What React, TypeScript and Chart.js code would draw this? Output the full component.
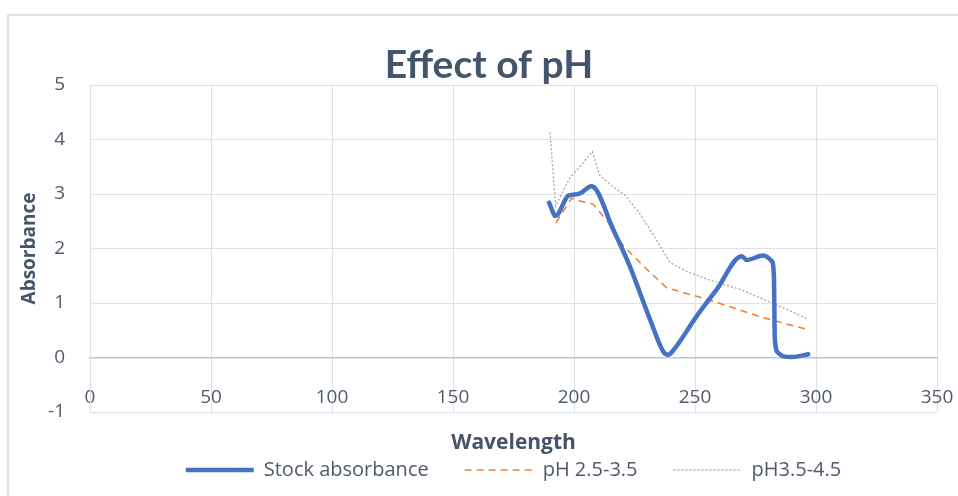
import React, { useEffect, useRef } from "react";
import { Chart, registerables } from "chart.js";

Chart.register(...registerables);

// ---- Data ----
const stockWavelength = [189.7, 192.4, 197.7, 201.8, 207.3, 216.2, 223, 231.4, 237, 239, 241, 250.7, 259, 269.3, 271.3, 278.2, 281.7, 282.6, 283, 284.5, 286.5, 290, 296.8];
const stockAbsorbance = [2.84, 2.6, 2.97, 3.0, 3.14, 2.35, 1.68, 0.7, 0.1, 0.05, 0.13, 0.76, 1.25, 1.86, 1.79, 1.87, 1.77, 1.5, 0.33, 0.08, 0.02, 0.01, 0.06];

const ph25Wavelength = [190.5, 192.6, 199, 204.5, 208, 213.5, 220.4, 230, 238.3, 254.8, 278.2, 296.8];
const ph25Absorbance = [2.68, 2.48, 2.92, 2.85, 2.81, 2.52, 2.05, 1.62, 1.28, 1.07, 0.73, 0.51];

const ph35Wavelength = [190.1, 192.4, 198.3, 202, 207.6, 210.5, 215, 221, 227, 233.5, 239.7, 247, 256, 268.6, 278.2, 286.5, 296.8];
const ph35Absorbance = [4.13, 2.78, 3.3, 3.48, 3.78, 3.35, 3.17, 2.98, 2.65, 2.2, 1.74, 1.57, 1.42, 1.25, 1.07, 0.91, 0.7];

const seriesNames = ["Stock absorbance", "pH 2.5-3.5", "pH3.5-4.5"];
const chartTitle = "Effect of pH";
const xTitle = "Wavelength";
const yTitle = "Absorbance";
const xMin = 0, xMax = 350, xStep = 50;
const yMin = -1, yMax = 5, yStep = 1;

const toPoints = (xs: number[], ys: number[]) => xs.map((x, i) => ({ x, y: ys[i] }));

const FONT = "'Open Sans', Lato, sans-serif";
const TITLE_FONT = "Lato, 'Open Sans', sans-serif";
const TEXT = "#505a6a";
const TITLE = "#44546A";
const GRID = "#dde2ea";

const borderPlugin = {
  id: "outerBorder",
  beforeDraw(chart: any) {
    const ctx = chart.ctx;
    ctx.save();
    ctx.strokeStyle = "#e1e5eb";
    ctx.lineWidth = 2;
    ctx.beginPath();
    ctx.moveTo(8, 1000);
    ctx.lineTo(8, 15);
    ctx.lineTo(1000, 15);
    ctx.stroke();
    ctx.restore();
  },
};

export default function App() {
  const ref = useRef<HTMLCanvasElement | null>(null);
  useEffect(() => {
    if (!ref.current) return;
    const chart = new Chart(ref.current, {
      type: "scatter",
      data: {
        datasets: [
          {
            label: seriesNames[0],
            data: toPoints(stockWavelength, stockAbsorbance),
            showLine: true,
            borderColor: "#4472C4",
            backgroundColor: "#4472C4",
            borderWidth: 4.5,
            pointRadius: 0,
            cubicInterpolationMode: "monotone",
            borderCapStyle: "round",
            borderJoinStyle: "round",
          },
          {
            label: seriesNames[1],
            data: toPoints(ph25Wavelength, ph25Absorbance),
            showLine: true,
            borderColor: "#ED7D31",
            backgroundColor: "#ED7D31",
            borderWidth: 1.5,
            borderDash: [7, 5],
            pointRadius: 0,
            tension: 0,
          },
          {
            label: seriesNames[2],
            data: toPoints(ph35Wavelength, ph35Absorbance),
            showLine: true,
            borderColor: "#a0a0a0",
            backgroundColor: "#a0a0a0",
            borderWidth: 1.2,
            borderDash: [2, 2],
            pointRadius: 0,
            tension: 0,
          },
        ],
      },
      options: {
        responsive: false,
        animation: false,
        devicePixelRatio: 1,
        layout: { padding: { left: 41, right: 21, top: 16, bottom: 6 } },
        scales: {
          x: {
            type: "linear",
            position: { y: 0 } as any,
            min: xMin,
            max: xMax,
            ticks: { stepSize: xStep, padding: 29, color: TEXT, font: { family: FONT, size: 19 }, maxRotation: 0 },
            grid: { color: GRID, drawTicks: false, lineWidth: 1 },
            border: { color: "#bcc5d2", width: 1.5 },
            afterFit: (scale: any) => {
              scale.paddingLeft = 0;
              scale.paddingRight = 0;
            },
          },
          y: {
            min: yMin,
            max: yMax,
            ticks: { stepSize: yStep, padding: 25, color: TEXT, font: { family: FONT, size: 19 } },
            grid: { color: GRID, drawTicks: false },
            border: { color: GRID },
            title: {
              display: true,
              text: yTitle,
              color: TITLE,
              font: { family: FONT, size: 19, weight: "bold" },
              padding: { top: -22.4, bottom: 0 },
            },
            afterFit: (scale: any) => {
              scale.width = 49;
            },
          },
        },
        plugins: {
          title: {
            display: true,
            text: chartTitle,
            color: TITLE,
            font: { family: TITLE_FONT, size: 39, weight: "bold" },
            padding: { top: 26, bottom: -3.8 },
          },
          subtitle: {
            display: true,
            text: xTitle,
            position: "bottom",
            fullSize: false,
            weight: 500,
            color: TITLE,
            font: { family: FONT, size: 21, weight: "bold" },
            padding: { top: 18.4, bottom: -31.6 },
          } as any,
          legend: {
            position: "bottom",
            fullSize: false,
            labels: {
              usePointStyle: true,
              pointStyle: "line",
              pointStyleWidth: 68,
              padding: 36,
              color: TEXT,
              font: { family: FONT, size: 20 },
              generateLabels: (c: any) => {
                const items = (Chart.defaults as any).plugins.legend.labels.generateLabels(c);
                items.forEach((it: any) => {
                  const ds = c.data.datasets[it.datasetIndex];
                  it.lineDash = ds.borderDash || [];
                  it.lineWidth = ds.borderWidth;
                  it.strokeStyle = ds.borderColor;
                  it.fillStyle = ds.borderColor;
                });
                return items;
              },
            },
          },
          tooltip: { enabled: false },
        },
      },
      plugins: [borderPlugin],
    });
    return () => chart.destroy();
  }, []);
  return (
    <div style={{ position: "fixed", left: 0, top: 0, width: 958, height: 496, background: "#fff" }}>
      <canvas ref={ref} width={958} height={496} style={{ width: "958px", height: "496px", display: "block" }} />
    </div>
  );
}
